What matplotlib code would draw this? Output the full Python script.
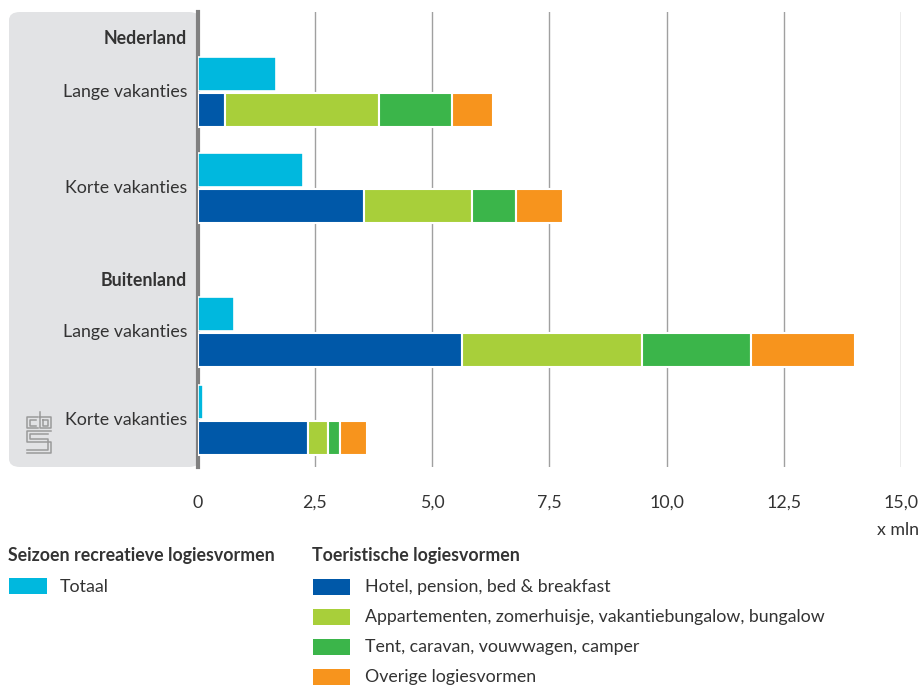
import matplotlib
matplotlib.use("Agg")
import matplotlib.pyplot as plt
from matplotlib.patches import FancyBboxPatch, Rectangle
from matplotlib import transforms

# ---- data ----
groups = ["Nederland", "Buitenland"]
categories = ["Lange vakanties", "Korte vakanties", "Lange vakanties", "Korte vakanties"]
totaal = [1.68, 2.24, 0.77, 0.12]
hotel = [0.58, 3.55, 5.64, 2.36]
appartementen = [3.29, 2.30, 3.84, 0.42]
tent = [1.55, 0.94, 2.33, 0.25]
overige = [0.88, 1.01, 2.20, 0.58]
xticks = [0, 2.5, 5.0, 7.5, 10.0, 12.5, 15.0]
xticklabels = ["0", "2,5", "5,0", "7,5", "10,0", "12,5", "15,0"]

series_names = ["Hotel, pension, bed & breakfast",
                "Appartementen, zomerhuisje, vakantiebungalow, bungalow",
                "Tent, caravan, vouwwagen, camper",
                "Overige logiesvormen"]
C_TOT = "#00B8DE"
colors = ["#0058A8", "#A8CF3A", "#3BB54A", "#F7941D"]

# ---- layout (pixel units) ----
W, H = 921, 687
cat_y = [92, 188, 332, 420]
group_y = [38, 280]
bar_h = 34
FS = 12.8

plt.rcParams['font.family'] = ['Lato', 'DejaVu Sans']
TXT = "#333333"

fig = plt.figure(figsize=(W / 100, H / 100), dpi=100)

def fx(px):
    return px / W

def fy(py):
    return 1 - py / H

ax_left, ax_right, ax_top, ax_bot = 197.7, 901, 12, 467
ax = fig.add_axes([fx(ax_left), fy(ax_bot), fx(ax_right - ax_left), (ax_bot - ax_top) / H])
ax.set_xlim(0, 15)
ax.set_ylim(ax_bot, ax_top)

# panel
panel = FancyBboxPatch((fx(9), fy(467)), fx(200) - fx(9), (467 - 12) / H,
                       boxstyle="round,pad=0,rounding_size=0.012",
                       transform=fig.transFigure, facecolor="#E2E3E5",
                       edgecolor="none", zorder=-5)
fig.patches.append(panel)

# grid
for t in xticks[1:]:
    ax.axvline(t, color="#A0A0A0", lw=1.0, zorder=0)

# bars
ax.barh([y - 18.5 for y in cat_y], totaal, height=bar_h, color=C_TOT,
        edgecolor="white", linewidth=1.2, zorder=3)
left = [0] * len(cat_y)
for vals, col in zip([hotel, appartementen, tent, overige], colors):
    ax.barh([y + 18 for y in cat_y], vals, left=left, height=bar_h, color=col,
            edgecolor="white", linewidth=1.5, zorder=3)
    left = [l + v for l, v in zip(left, vals)]

# spines
for s in ["top", "right", "bottom"]:
    ax.spines[s].set_visible(False)
ax.spines["left"].set_color("#808080")
ax.spines["left"].set_linewidth(3)
ax.set_yticks([])
ax.set_xticks(xticks)
ax.set_xticklabels(xticklabels, fontsize=FS, color=TXT)
ax.tick_params(axis="x", length=0, pad=20)

# labels in panel
tr = transforms.blended_transform_factory(fig.transFigure, ax.transData)
for g, y in zip(groups, group_y):
    ax.text(fx(187), y, g, transform=tr, ha="right", va="center",
            fontsize=FS, fontweight="bold", color=TXT, clip_on=False)
for c, y in zip(categories, cat_y):
    ax.text(fx(187), y, c, transform=tr, ha="right", va="center",
            fontsize=FS, color=TXT, clip_on=False)

fig.text(fx(919), fy(530), "x mln", ha="right", va="center", fontsize=FS, color=TXT)

# logo (simplified cbs mark)
lc = "#9a9a9a"
def pl(xs, ys):
    fig.add_artist(plt.Line2D([fx(x) for x in xs], [fy(y) for y in ys], color=lc, lw=1.1))
pl([38, 27, 27, 38], [417, 417, 428, 428])
pl([36, 29.5, 29.5, 36], [420, 420, 425.5, 425.5])
pl([40, 40, 51, 51, 40], [412, 428, 428, 417, 417])
pl([43, 43, 48, 48, 43], [420, 425.5, 425.5, 420, 420])
pl([51, 27, 27, 51, 51, 27], [431, 431, 442, 442, 453, 453])
pl([48, 30, 30, 48, 48, 27], [434, 434, 439, 439, 450, 450])

# legend
fig.text(fx(8), fy(556), "Seizoen recreatieve logiesvormen", ha="left", va="center",
         fontsize=FS, fontweight="bold", color=TXT)
fig.patches.append(Rectangle((fx(9), fy(594)), fx(38), 16 / H, transform=fig.transFigure,
                             facecolor=C_TOT, edgecolor="none"))
fig.text(fx(60), fy(587), "Totaal", ha="left", va="center", fontsize=FS, color=TXT)

fig.text(fx(312), fy(556), "Toeristische logiesvormen", ha="left", va="center",
         fontsize=FS, fontweight="bold", color=TXT)
for i, (name, col) in enumerate(zip(series_names, colors)):
    yc = 587 + 30 * i
    fig.patches.append(Rectangle((fx(313), fy(yc + 8)), fx(37), 16 / H,
                                 transform=fig.transFigure, facecolor=col, edgecolor="none"))
    fig.text(fx(365), fy(yc), name, ha="left", va="center", fontsize=FS, color=TXT)

fig.savefig("out.png", dpi=100)
